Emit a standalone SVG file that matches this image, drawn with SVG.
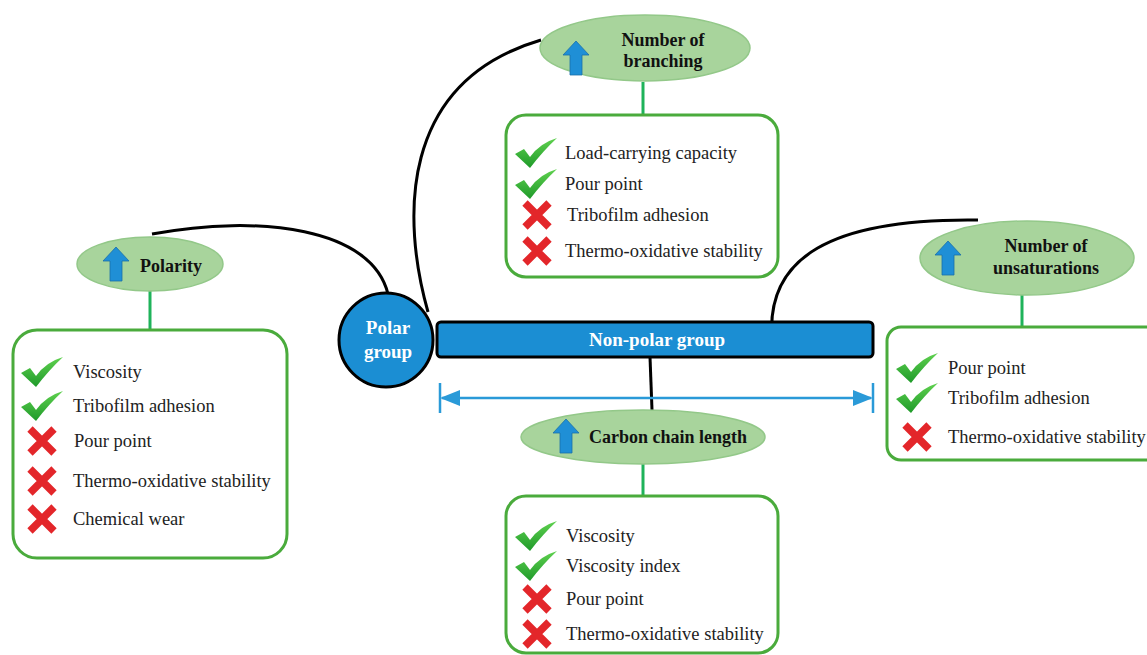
<svg xmlns="http://www.w3.org/2000/svg" width="1147" height="655" viewBox="0 0 1147 655">
<style>
.box{fill:#fff;stroke:#4aab3c;stroke-width:3}
.ell{fill:#a8d49c;stroke:#93c889;stroke-width:1.5}
.gl{stroke:#1fb35a;stroke-width:3;fill:none}
.bl{stroke:#000;stroke-width:3;fill:none}
.t{font-family:"Liberation Serif",serif;font-size:18.5px;fill:#222}
.h{font-family:"Liberation Serif",serif;font-size:18px;font-weight:bold;fill:#111}
.w{font-family:"Liberation Serif",serif;font-size:19px;font-weight:bold;fill:#fff}
</style>
<defs>
<linearGradient id="gc" x1="0" y1="0" x2="0" y2="1"><stop offset="0" stop-color="#5fd14f"/><stop offset="1" stop-color="#1f9a2a"/></linearGradient>
<g id="chk"><path d="M0,1 L9,-4 L15,4 Q25,-10 42,-15 Q28,-2 15,15 Z" fill="url(#gc)"/></g>
<g id="crs"><path d="M-12,-12 L12,12 M-12,12 L12,-12" stroke="#e3262a" stroke-width="7.5"/></g>
<g id="up"><path d="M13,0 L26,14 L19,14 L19,34 L7,34 L7,14 L0,14 Z" fill="#1f8fd6" stroke="#1a70a8" stroke-width="0.8"/></g>
<marker id="ah" viewBox="0 0 10 10" refX="9" refY="5" markerWidth="8" markerHeight="8" orient="auto-start-reverse"><path d="M0,1 L10,5 L0,9 Z" fill="#2a9ad8"/></marker>
</defs>

<g id="connectors">
<path class="bl" d="M152,234 C260,214 372,228 388,294"/>
<path class="bl" d="M428,312 C402,220 398,82 541,40"/>
<path class="bl" d="M772,338 C766,258 830,218 978,220"/>
<path class="bl" d="M650,357 L652,410"/>
<path class="gl" d="M643,82 L643,115"/>
<path class="gl" d="M150,291 L150,330"/>
<path class="gl" d="M643,464 L643,496"/>
<path class="gl" d="M1022,295 L1022,327"/>
<g stroke="#2a9ad8" stroke-width="2.5">
<path d="M442,398 L871,398" marker-start="url(#ah)" marker-end="url(#ah)"/>
<path d="M440,383 L440,413 M873,383 L873,413"/>
</g>
</g>

<g id="molecule">
<rect x="437" y="322" width="436" height="35" rx="4" fill="#1b8ed3" stroke="#000" stroke-width="3"/>
<text class="w" x="657" y="346" text-anchor="middle">Non-polar group</text>
<circle cx="386" cy="340" r="47" fill="#1b8ed3" stroke="#000" stroke-width="3"/>
<text class="w" x="388" y="334" text-anchor="middle">Polar</text>
<text class="w" x="388" y="358" text-anchor="middle">group</text>
</g>

<g id="branching">
<ellipse class="ell" cx="645" cy="48" rx="105" ry="33"/>
<use href="#up" x="563" y="41"/>
<text class="h" x="663" y="46" text-anchor="middle">Number of</text>
<text class="h" x="663" y="67" text-anchor="middle">branching</text>
<rect class="box" x="506" y="115" width="272" height="162" rx="20"/>
<use href="#chk" x="515" y="153"/><text class="t" x="565" y="159">Load-carrying capacity</text>
<use href="#chk" x="515" y="184"/><text class="t" x="565" y="190">Pour point</text>
<use href="#crs" x="537" y="215"/><text class="t" x="567" y="221">Tribofilm adhesion</text>
<use href="#crs" x="537" y="251"/><text class="t" x="565" y="257">Thermo-oxidative stability</text>
</g>

<g id="polarity">
<ellipse class="ell" cx="150" cy="264" rx="73" ry="27"/>
<use href="#up" x="103" y="247"/>
<text class="h" x="140" y="272">Polarity</text>
<rect class="box" x="13" y="330" width="274" height="228" rx="24"/>
<use href="#chk" x="21" y="372"/><text class="t" x="73" y="378">Viscosity</text>
<use href="#chk" x="21" y="406"/><text class="t" x="73" y="412">Tribofilm adhesion</text>
<use href="#crs" x="42" y="441"/><text class="t" x="74" y="447">Pour point</text>
<use href="#crs" x="42" y="481"/><text class="t" x="73" y="487">Thermo-oxidative stability</text>
<use href="#crs" x="42" y="519"/><text class="t" x="73" y="525">Chemical  wear</text>
</g>

<g id="unsaturations">
<ellipse class="ell" cx="1027" cy="258" rx="107" ry="37"/>
<use href="#up" x="935" y="241"/>
<text class="h" x="1046" y="252" text-anchor="middle">Number of</text>
<text class="h" x="1046" y="274" text-anchor="middle">unsaturations</text>
<rect class="box" x="887" y="327" width="280" height="133" rx="14"/>
<use href="#chk" x="896" y="368"/><text class="t" x="948" y="374">Pour point</text>
<use href="#chk" x="896" y="398"/><text class="t" x="948" y="404">Tribofilm adhesion</text>
<use href="#crs" x="917" y="437"/><text class="t" x="948" y="443">Thermo-oxidative stability</text>
</g>

<g id="carbon">
<ellipse class="ell" cx="643" cy="437" rx="122" ry="27"/>
<use href="#up" x="553" y="419"/>
<text class="h" x="589" y="443">Carbon chain length</text>
<rect class="box" x="506" y="496" width="272" height="157" rx="20"/>
<use href="#chk" x="515" y="536"/><text class="t" x="566" y="542">Viscosity</text>
<use href="#chk" x="515" y="566"/><text class="t" x="566" y="572">Viscosity index</text>
<use href="#crs" x="537" y="599"/><text class="t" x="566" y="605">Pour point</text>
<use href="#crs" x="537" y="634"/><text class="t" x="566" y="640">Thermo-oxidative stability</text>
</g>
</svg>
